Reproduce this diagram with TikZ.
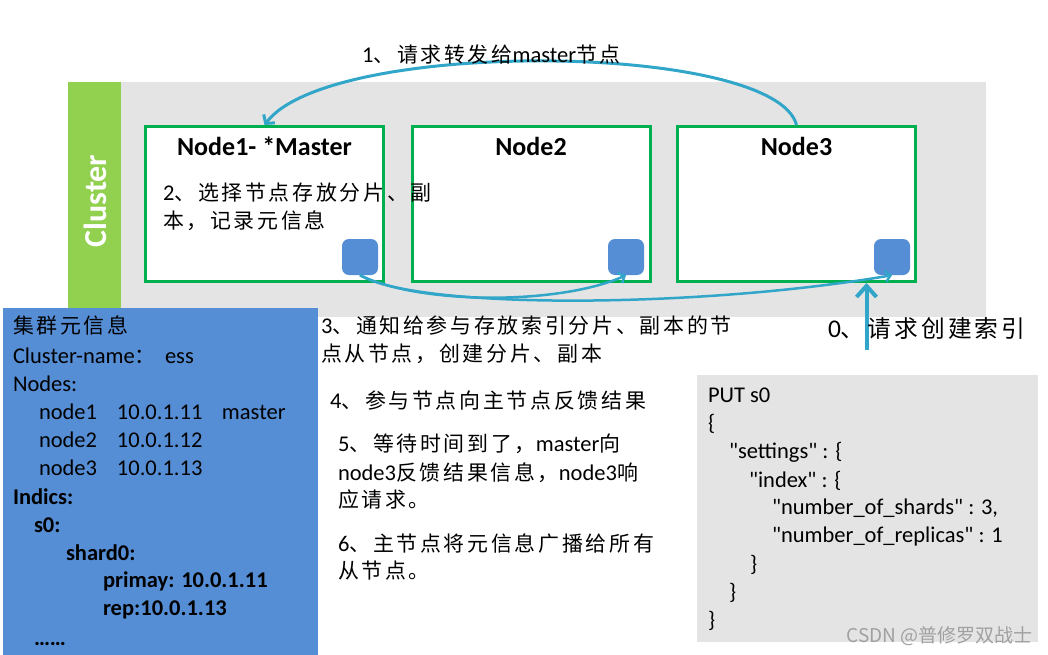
\documentclass[tikz,border=0pt]{standalone}
\usepackage{fontspec}
\usetikzlibrary{arrows.meta}
\setmainfont{Carlito}
\newfontfamily\codef[Ligatures=TeXOff]{Carlito}
\newfontfamily\cjkf[Scale=0.93,LetterSpace=13]{Noto Sans CJK SC}
\newfontfamily\wmfont{Noto Sans CJK SC}
\newcommand\zh[1]{{\cjkf #1}}
\definecolor{bggray}{RGB}{228,228,228}
\definecolor{bargreen}{RGB}{146,208,80}
\definecolor{boxgreen}{RGB}{0,176,80}
\definecolor{infoblue}{RGB}{85,142,213}
\definecolor{flowc}{RGB}{49,166,200}
\definecolor{wmgray}{RGB}{160,160,160}
\begin{document}
\begin{tikzpicture}[x=1pt,y=-1pt,
  txt/.style={anchor=base west, inner sep=0pt, outer sep=0pt, font=\fontsize{22.5}{28}\selectfont},
  btxt/.style={anchor=base west, inner sep=0pt, outer sep=0pt, font=\fontsize{22.5}{28}\selectfont\bfseries},
  ctxt/.style={anchor=base west, inner sep=0pt, outer sep=0pt, font=\codef\fontsize{22.5}{28}\selectfont},
  title/.style={anchor=base, inner sep=0pt, font=\fontsize{26}{30}\selectfont\bfseries},
  nodebox/.style={draw=boxgreen, line width=3pt, fill=white, minimum width=238pt, minimum height=155pt, inner sep=0pt},
  sqbox/.style={fill=infoblue, minimum size=36pt, rounded corners=7pt, inner sep=0pt},
  panel/.style={anchor=north west, inner sep=0pt, outer sep=0pt},
  flow/.style={draw=flowc, line width=2.5pt, -{Straight Barb[length=5pt,width=11pt]}},
]
\useasboundingbox (0,0) rectangle (1048,655);
% cluster background
\node[panel, fill=bggray, minimum width=865pt, minimum height=235pt] (cl) at (121,82) {};
\node[panel, fill=bargreen, minimum width=53pt, minimum height=236pt] (bar) at (68,82) {};
\node[rotate=90, text=white, inner sep=0pt, font=\fontsize{32}{36}\selectfont\bfseries] (cltxt) at (95,201) {Cluster};
% node boxes
\node[nodebox] (n1) at (264.5,204) {};
\node[nodebox] (n2) at (531,204) {};
\node[nodebox] (n3) at (796.5,204) {};
\node[title] (n1t) at (264.5,156) {Node1- *Master};
\node[title] (n2t) at (531,156) {Node2};
\node[title] (n3t) at (796.5,156) {Node3};
% shards
\node[sqbox] (sq1) at (360,257) {};
\node[sqbox] (sq2) at (626,257) {};
\node[sqbox] (sq3) at (892,257) {};
% arrows
\draw[flow, line width=3pt, -{Straight Barb[length=6pt,width=14pt]}] (n3.north) .. controls (775,42) and (330,38) .. (n1.north);
\draw[flow] (sq1.south) .. controls (420,305) and (560,305) .. (sq2.south);
\draw[flow] (sq1.south) .. controls (420,310) and (700,308) .. (sq3.south);
\coordinate (c0) at (866.5,350);
\draw[flow, line width=4pt, -{Straight Barb[length=11pt,width=20pt]}] (c0) -- (c0 |- n3.south);
% info panel
\node[panel, fill=infoblue, minimum width=315pt, minimum height=348pt] (info) at (3,308) {};
\node[txt] (i1) at (13,333) {\zh{集群元信息}};
\node[txt] (i2) at (13,363) {\makebox[152pt][l]{Cluster-name\zh{：}}ess};
\node[txt] (i3) at (13,391) {Nodes:};
\node[txt] (i4) at (39,419) {\makebox[78pt][l]{node1}\makebox[105pt][l]{10.0.1.11}master};
\node[txt] (i5) at (39,447) {\makebox[78pt][l]{node2}10.0.1.12};
\node[txt] (i6) at (39,475) {\makebox[78pt][l]{node3}10.0.1.13};
\node[btxt] (i7) at (13,504) {Indics:};
\node[btxt] (i8) at (34,532) {s0:};
\node[btxt] (i9) at (66,560) {shard0:};
\node[btxt] (i10) at (103,587) {primay: 10.0.1.11};
\node[btxt] (i11) at (103,615) {rep:10.0.1.13};
\node[btxt] (i12) at (34,645) {……};
% code panel
\node[panel, fill=bggray, minimum width=341pt, minimum height=267pt] (code) at (697,375) {};
\node[ctxt] (k1) at (708,402) {PUT s0};
\node[ctxt] (k2) at (708,430) {\{};
\node[ctxt] (k3) at (729,458) {"settings" : \{};
\node[ctxt] (k4) at (749,487) {"index" : \{};
\node[ctxt] (k5) at (772,514) {"number\_of\_shards" : 3,};
\node[ctxt] (k6) at (772,542) {"number\_of\_replicas" : 1};
\node[ctxt] (k7) at (750,571) {\}};
\node[ctxt] (k8) at (729,599) {\}};
\node[ctxt] (k9) at (708,627) {\}};
\node[anchor=base east, inner sep=0pt, text=wmgray, font=\wmfont\fontsize{19}{22}\selectfont] (wm) at (1033,642) {CSDN @普修罗双战士};
% step texts
\node[txt] (t1) at (362,63) {1\zh{、请求转发给}master\zh{节点}};
\node[txt] (t2a) at (163,200) {2\zh{、选择节点存放分片、副}};
\node[txt] (t2b) at (163,228) {\zh{本，记录元信息}};
\node[txt] (t3a) at (321,333) {3\zh{、通知给参与存放索引分片、副本的节}};
\node[txt] (t3b) at (321,361) {\zh{点从节点，创建分片、副本}};
\node[txt] (t4) at (330,408) {4\zh{、参与节点向主节点反馈结果}};
\node[txt] (t5a) at (338,451) {5\zh{、等待时间到了，}master\zh{向}};
\node[txt] (t5b) at (338,480) {node3\zh{反馈结果信息，}node3\zh{响}};
\node[txt] (t5c) at (338,507) {\zh{应请求。}};
\node[txt] (t6a) at (338,551) {6\zh{、主节点将元信息广播给所有}};
\node[txt] (t6b) at (338,578) {\zh{从节点。}};
\node[txt, font=\fontsize{25.5}{28}\selectfont] (t0) at (828,337) {0\zh{、请求创建索引}};
\end{tikzpicture}
\end{document}
